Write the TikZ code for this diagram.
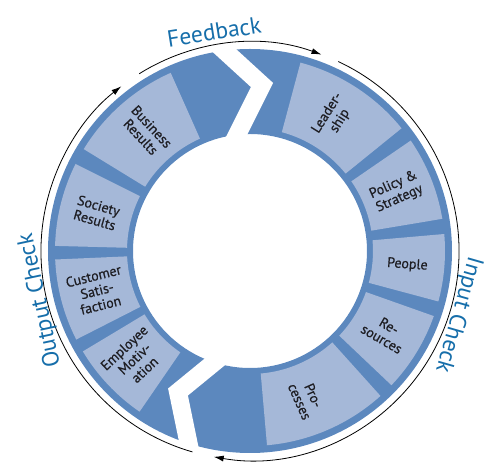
\documentclass[tikz,border=0pt]{standalone}
\usepackage{fontspec}
\setmainfont{PT Sans}
\newfontfamily\boxfont[FakeBold=0.6]{PT Sans}
\usetikzlibrary{arrows.meta}
\definecolor{ringblue}{RGB}{92,136,190}
\definecolor{boxblue}{RGB}{165,184,216}
\definecolor{labelblue}{RGB}{22,110,170}
\definecolor{boxtext}{RGB}{30,30,35}
\tikzset{
  boxlabel/.style={text=boxtext,align=center,inner sep=0pt,
    font=\boxfont\fontsize{14}{15}\selectfont},
  cyclelabel/.style={text=labelblue,inner sep=0pt,text depth=0pt,
    font=\fontsize{23.5}{26}\selectfont},
  cyclearrow/.style={line width=.8pt,-{Latex[length=10pt,width=6pt]}}
}
\begin{document}
\begin{tikzpicture}[x=1pt,y=1pt]
  \useasboundingbox (-250,-211) rectangle (234,251);
  \def\rin{123}\def\rout{195}
  % dark ring
  \fill[ringblue,even odd rule] (0,0) circle[radius=202] (0,0) circle[radius=117];
  % light boxes with their labels
  \foreach \a/\b/\m/\ang/\id/\txt in {39/75/58/58/lead/Leader-\\ship,
      9.5/34.5/22/24/policy/Policy \&\\Strategy,
      -15/5/-5/-4/people/People,
      -43.5/-19.5/-31/-30/resources/Re-\\sources,
      -85/-48/-69/-66/processes/Pro-\\cesses,
      211/235.5/223/43/employee/Employee\\Motiv-\\ation,
      182.5/207/194.5/14/customer/Customer\\Satis-\\faction,
      153.5/178.5/166/-16/society/Society\\Results,
      114/148.5/131/-47/business/Business\\Results}{%
    \fill[boxblue] (\a:\rin) arc[start angle=\a,end angle=\b,radius=\rin]
      -- (\b:\rout) arc[start angle=\b,end angle=\a,radius=\rout] -- cycle;
    \node[boxlabel,rotate=\ang] (\id) at (\m:158) {\txt};
  }
  % the two breaks in the ring
  \coordinate (TopOut) at (-35,209);
  \coordinate (TopKnee) at (12,166);
  \coordinate (TopIn) at (-16,110);
  \coordinate (BotIn) at (-28,-105);
  \coordinate (BotKnee) at (-72,-141);
  \coordinate (BotOut) at (-58,-209);
  \draw[white,line width=18pt,line join=miter] (TopOut) -- (TopKnee) -- (TopIn);
  \draw[white,line width=18pt,line join=miter] (BotIn) -- (BotKnee) -- (BotOut);
  % outer arrows
  \draw[cyclearrow] (65:209) arc[start angle=65,end angle=-100,radius=209];
  \draw[cyclearrow] (254:209) arc[start angle=254,end angle=128,radius=209];
  \draw[cyclearrow] (122:209) arc[start angle=122,end angle=70,radius=209];
  \node[cyclelabel,rotate=9] (feedback) at (99.3:222) {Feedback};
  \node[cyclelabel,rotate=-106] (input) at (-17:220) {Input Check};
  \node[cyclelabel,rotate=102] (output) at (193.3:218) {Output Check};
\end{tikzpicture}
\end{document}
